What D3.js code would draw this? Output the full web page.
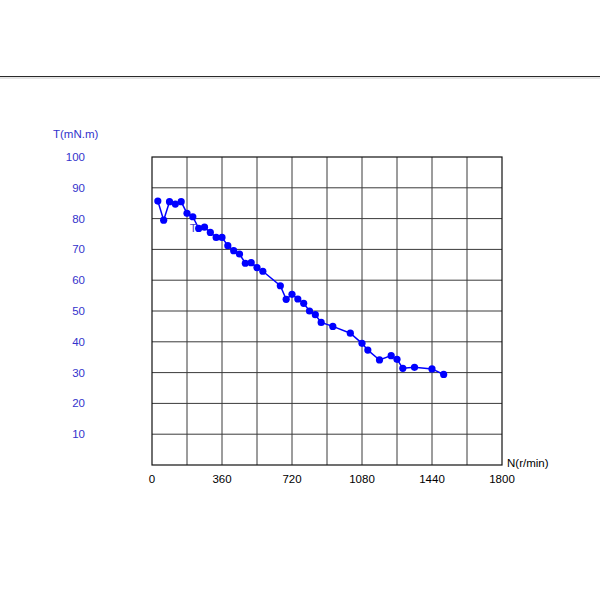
<!DOCTYPE html>
<html>
<head>
<meta charset="utf-8">
<script src="https://cdn.jsdelivr.net/npm/d3@7"></script>
<style>
  body { margin: 0; background: #fff; }
  svg { display: block; font-family: "Liberation Sans", Arial, sans-serif; }
</style>
</head>
<body>
<script>
// speed (r/min) and torque (mN.m)
const speed = [30, 60, 90, 120, 150, 180, 210, 240, 270, 300, 330, 360, 390, 420, 450, 480, 510, 540, 570,
  660, 690, 720, 750, 780, 810, 840, 870, 930, 1020, 1080, 1110, 1170, 1230, 1260, 1290, 1350, 1440, 1500];
const torque = [85.7, 79.5, 85.5, 84.7, 85.5, 81.7, 80.6, 76.8, 77.2, 75.5, 73.9, 73.9, 71.2, 69.6, 68.5, 65.5, 65.7, 64.1, 62.9,
  58.2, 53.8, 55.4, 53.9, 52.5, 50.0, 48.8, 46.3, 45.0, 42.8, 39.5, 37.3, 34.1, 35.5, 34.3, 31.4, 31.7, 31.2, 29.4];
const xTicks = [0, 360, 720, 1080, 1440, 1800];
const yTicks = [10, 20, 30, 40, 50, 60, 70, 80, 90, 100];

const width = 600, height = 600;
const marginLeft = 152, marginRight = 98, marginTop = 157, marginBottom = 135;

const data = speed.map((n, i) => ({n, t: torque[i]}));

const x = d3.scaleLinear().domain([0, 1800]).range([marginLeft, width - marginRight]);
const y = d3.scaleLinear().domain([0, 100]).range([height - marginBottom, marginTop]);

const svg = d3.select("body").append("svg")
    .attr("width", width)
    .attr("height", height)
    .attr("viewBox", [0, 0, width, height]);

// rule at the top of the page
svg.append("line").attr("x1", 0).attr("x2", width).attr("y1", 76.5).attr("y2", 76.5)
    .attr("stroke", "#2a2a2a").attr("stroke-width", 1.2);
svg.append("line").attr("x1", 0).attr("x2", width).attr("y1", 78).attr("y2", 78)
    .attr("stroke", "#c8c8c8").attr("stroke-width", 1);

// grid
const grid = svg.append("g").attr("stroke", "#3a3a3a").attr("stroke-width", 1);
grid.selectAll(".vx")
  .data(d3.range(180, 1800, 180))
  .join("line")
    .attr("x1", d => x(d)).attr("x2", d => x(d))
    .attr("y1", y(0)).attr("y2", y(100));
grid.selectAll(".hy")
  .data(d3.range(10, 100, 10))
  .join("line")
    .attr("x1", x(0)).attr("x2", x(1800))
    .attr("y1", d => y(d)).attr("y2", d => y(d));
svg.append("rect")
    .attr("x", x(0)).attr("y", y(100))
    .attr("width", x(1800) - x(0)).attr("height", y(0) - y(100))
    .attr("fill", "none").attr("stroke", "#111").attr("stroke-width", 1.2);

// x tick labels
svg.append("g")
    .attr("font-size", 11.5).attr("fill", "#000").attr("text-anchor", "middle")
  .selectAll("text")
  .data(xTicks)
  .join("text")
    .attr("x", d => x(d))
    .attr("y", y(0) + 18)
    .text(d => d);

// y tick labels
svg.append("g")
    .attr("font-size", 11.5).attr("fill", "#3333cc").attr("text-anchor", "end")
  .selectAll("text")
  .data(yTicks)
  .join("text")
    .attr("x", 85)
    .attr("y", d => y(d) + 4)
    .text(d => d);

// axis titles
svg.append("text").attr("x", 53).attr("y", 138)
    .attr("font-size", 11.5).attr("fill", "#3333cc").text("T(mN.m)");
svg.append("text").attr("x", 507).attr("y", 467)
    .attr("font-size", 11.5).attr("fill", "#000").text("N(r/min)");

// series
const line = d3.line().x(d => x(d.n)).y(d => y(d.t));
svg.append("path")
    .datum(data)
    .attr("fill", "none")
    .attr("stroke", "#0000ff")
    .attr("stroke-width", 1.5)
    .attr("d", line);
svg.append("g")
    .attr("fill", "#0000ff")
  .selectAll("circle")
  .data(data)
  .join("circle")
    .attr("cx", d => x(d.n))
    .attr("cy", d => y(d.t))
    .attr("r", 3.6);

// series label
svg.append("text")
    .attr("x", x(data[7].n) - 9).attr("y", y(data[7].t) + 4)
    .attr("font-size", 11.5).attr("fill", "#4444cc").text("T");
</script>
</body>
</html>
